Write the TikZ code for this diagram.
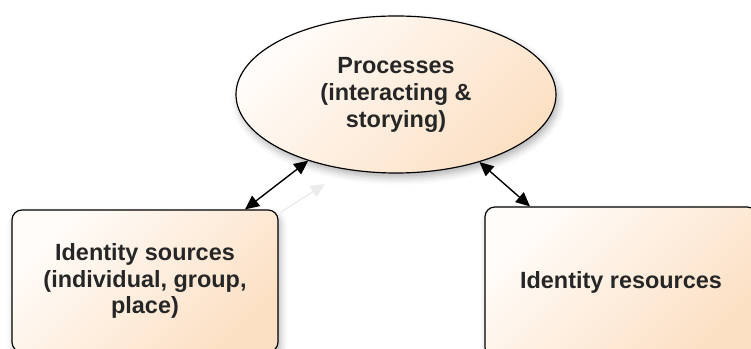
\documentclass[tikz,border=0pt]{standalone}
\usepackage{fontspec}
\setmainfont{Liberation Sans}
\usetikzlibrary{shapes,arrows.meta,shadows.blur}

\definecolor{peach}{HTML}{FCE0C4}
\definecolor{cream}{HTML}{FFFCF9}

\begin{document}
\begin{tikzpicture}[x=0.03cm, y=0.03cm, every node/.style={draw, line width=1pt, align=center, font=\fontsize{20}{23}\selectfont\bfseries, text=black!85, top color=cream, bottom color=peach, shading angle=45, blur shadow={shadow xshift=2pt, shadow yshift=-4pt, shadow blur radius=6pt, shadow opacity=30}}, box/.style={rectangle, rounded corners=8.5pt}, oval/.style={ellipse, inner sep=0pt}, link/.style={{Triangle[length=12pt,width=11pt]}-{Triangle[length=12pt,width=11pt]}, line width=1.2pt}, ghost/.style={-{Triangle[length=12pt,width=11pt]}, line width=1.2pt, draw=black!8}]
\useasboundingbox (0,0) rectangle (751,349);
\clip (0,0) rectangle (751,349);
\node[oval, minimum width=9.6cm, minimum height=4.71cm] (proc) at (396,254.5) {Processes\\(interacting \&\\storying)};
\node[box, minimum width=7.98cm, minimum height=4.26cm] (src) at (145,68) {Identity sources\\(individual, group,\\place)};
\node[box, minimum width=8.16cm, minimum height=4.5cm] (res) at (621,67) {Identity resources};
\draw[ghost] ([xshift=4.05cm, yshift=-0.1cm]src.north) -- ([xshift=0.5cm, yshift=-0.7cm]proc.217);
\draw[link] ([xshift=3cm]src.north) -- (proc.217);
\draw[link] (proc.321) -- ([xshift=-2.73cm]res.north);
\end{tikzpicture}
\end{document}
